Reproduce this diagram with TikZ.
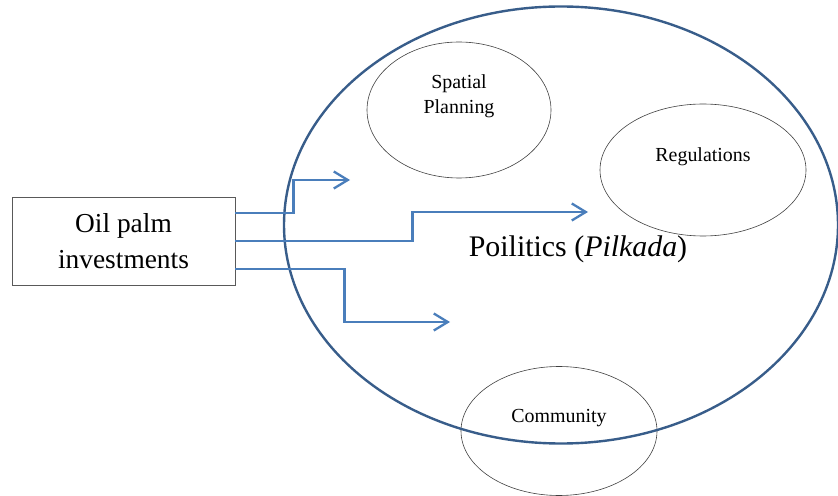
\documentclass[tikz,border=0pt]{standalone}
\usepackage{fontspec}
\setmainfont{Liberation Serif}
\usetikzlibrary{arrows.meta,shapes.geometric,positioning,calc}

\definecolor{ringblue}{RGB}{56,93,138}
\definecolor{flowblue}{RGB}{74,126,187}

\begin{document}
\begin{tikzpicture}[x=1bp, y=-1bp, >={Straight Barb[length=14bp,width=17bp]}, semithick,
    topic/.style={ellipse, draw=black!75, line width=0.6bp, inner sep=0pt},
    topictext/.style={align=center, font=\fontsize{20}{25}\selectfont},
    flow/.style={->, draw=flowblue, line width=2.3bp}]

    \useasboundingbox (0,0) rectangle (838,496);

    \node[draw=black!65, line width=0.8bp, minimum width=223bp, minimum height=88bp, align=center,
          font=\fontsize{27.5}{36}\selectfont]    (invest)   at (123.5,241)   {Oil palm\\investments};

    \node[topic, minimum width=184bp, minimum height=136bp]    (spatial)    at (459,110)   {};
    \node[topic, minimum width=206bp, minimum height=132bp]    (regs)       at (703,170)   {};
    \node[topic, minimum width=196bp, minimum height=129bp]    (community)  at (559,431)   {};

    \node[topictext]    (spatialtxt)     at ([yshift=14bp]spatial.center)     {Spatial\\Planning};
    \node[topictext]    (regstxt)        at ([yshift=13bp]regs.center)        {Regulations};
    \node[topictext]    (communitytxt)   at ([yshift=13bp]community.center)   {Community};

    \node[ellipse, draw=ringblue, line width=2.4bp, inner sep=0pt,
          minimum width=554bp, minimum height=437bp]    (politics)   at (561,225)   {};
    \node[font=\fontsize{30}{36}\selectfont]    (politicstxt)   at (578,249)   {Poilitics (\textit{Pilkada})};

    \coordinate (toplan)  at (350,180);
    \coordinate (topol)   at (588,212);
    \coordinate (tocom)   at (450,322);

    \draw[flow]   ([yshift=28bp]invest.east)    -- ++(58,0)    |- (toplan);
    \draw[flow]   (invest.east)                 -- ++(177,0)   |- (topol);
    \draw[flow]   ([yshift=-28bp]invest.east)   -- ++(109,0)   |- (tocom);

\end{tikzpicture}
\end{document}
